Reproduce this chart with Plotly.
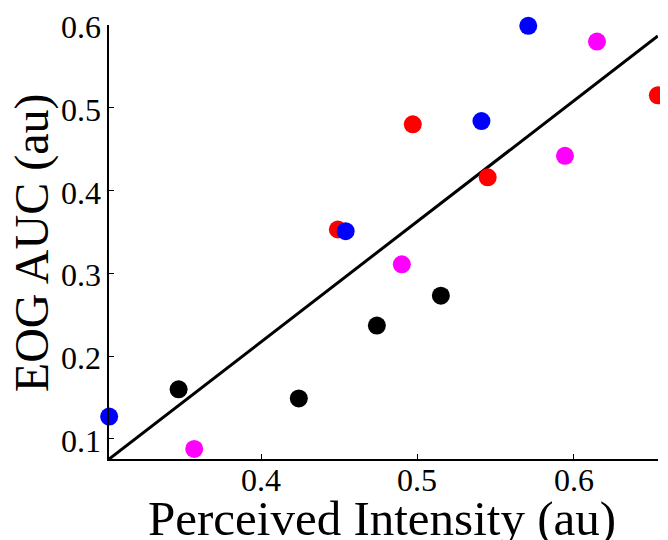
import plotly.graph_objects as go

# Data
black_x = [0.347, 0.424, 0.474, 0.515]
black_y = [0.160, 0.149, 0.237, 0.273]
magenta_x = [0.357, 0.490, 0.5945, 0.615]
magenta_y = [0.088, 0.311, 0.442, 0.580]
red_x = [0.449, 0.497, 0.545, 0.654]
red_y = [0.353, 0.480, 0.416, 0.515]
blue_x = [0.3025, 0.454, 0.541, 0.571]
blue_y = [0.127, 0.351, 0.484, 0.599]
fit_x = [0.3025, 0.6540]
fit_y = [0.0758, 0.5867]

x_ticks = [0.4, 0.5, 0.6]
y_ticks = [0.1, 0.2, 0.3, 0.4, 0.5, 0.6]
x_ticklabels = ["0.4", "0.5", "0.6"]
y_ticklabels = ["0.1", "0.2", "0.3", "0.4", "0.5", "0.6"]

FONT = "Liberation Serif, Times New Roman, serif"

fig = go.Figure()
fig.add_trace(go.Scatter(x=fit_x, y=fit_y, mode="lines",
                         line=dict(color="black", width=3), showlegend=False))
for xs, ys, col in [(black_x, black_y, "#000000"), (magenta_x, magenta_y, "#ff00ff"),
                    (red_x, red_y, "#ff0000"), (blue_x, blue_y, "#0000ff")]:
    fig.add_trace(go.Scatter(x=xs, y=ys, mode="markers", cliponaxis=False,
                             marker=dict(color=col, size=18, line=dict(width=0)),
                             showlegend=False))

fig.update_xaxes(range=[0.3024, 0.6541], tickvals=x_ticks, showticklabels=False,
                 showgrid=False, zeroline=False, showline=True, linecolor="black", linewidth=1.5,
                 ticks="inside", ticklen=5, tickcolor="black", automargin=False)
fig.update_yaxes(range=[0.0758, 0.6], tickvals=y_ticks, showticklabels=False,
                 showgrid=False, zeroline=False, showline=True, linecolor="black", linewidth=1.5,
                 ticks="inside", ticklen=5, tickcolor="black", automargin=False)

# tick labels placed through the axis scales
for v, t in zip(x_ticks, x_ticklabels):
    fig.add_annotation(text=t, x=v, xref="x", y=-0.0495, yref="paper",
                       xanchor="center", yanchor="middle", showarrow=False,
                       font=dict(family=FONT, size=32, color="black"))
for v, t in zip(y_ticks, y_ticklabels):
    fig.add_annotation(text=t, x=-0.0109, xref="paper", y=v, yref="y", yshift=-2,
                       xanchor="right", yanchor="middle", showarrow=False,
                       font=dict(family=FONT, size=32, color="black"))

fig.add_annotation(text="Perceived Intensity (au)", xref="paper", yref="paper",
                   x=0.497, y=-0.138, xanchor="center", yanchor="middle", showarrow=False,
                   font=dict(family=FONT, size=49, color="black"))
fig.add_annotation(text="EOG AUC (au)", xref="paper", yref="paper", textangle=-90,
                   x=-0.140, y=0.4977, xanchor="center", yanchor="middle", showarrow=False,
                   font=dict(family=FONT, size=48, color="black"))

# page body has an 8px margin; compensate so the plot area sits at x 109-658, y 25-459
fig.update_layout(width=668, height=540, margin=dict(l=101, r=18, t=17, b=89),
                  plot_bgcolor="white", paper_bgcolor="white")

fig.write_html("out.html")
